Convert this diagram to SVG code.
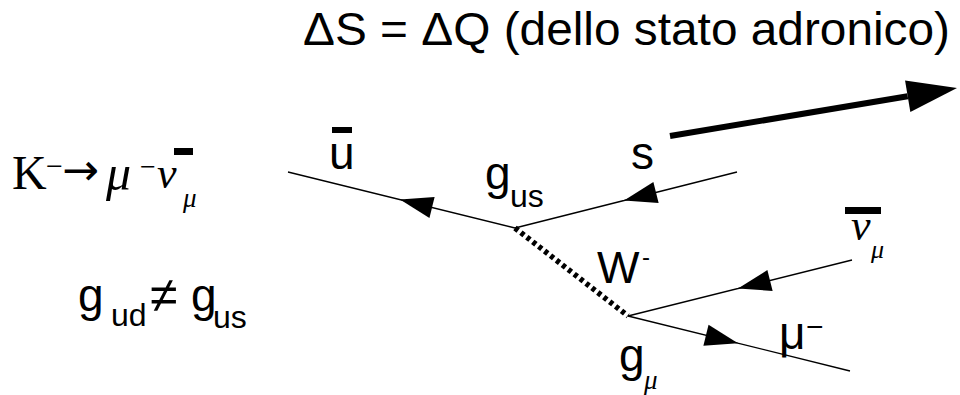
<svg xmlns="http://www.w3.org/2000/svg" width="960" height="395" viewBox="0 0 960 395">
  <defs>
    <style>
      .sans { font-family: "Liberation Sans", Arial, sans-serif; fill: #000; }
      .serif { font-family: "Liberation Serif", "Times New Roman", serif; fill: #000; }
      .it { font-style: italic; }
      .fermion { fill: none; stroke: #000; stroke-width: 1.3; marker-end: url(#ah); }
      .boson { fill: none; stroke: #000; stroke-width: 5.5; stroke-dasharray: 4 3.5; }
      .thick { fill: none; stroke: #000; stroke-width: 6; marker-end: url(#bigah); }
    </style>
    <marker id="ah" markerUnits="userSpaceOnUse" markerWidth="36" markerHeight="24" viewBox="-34 -12 36 24" refX="0" refY="0" orient="auto" overflow="visible">
      <path d="M0,0 L-33,-10.8 L-33,10.8 Z" fill="#000"/>
    </marker>
    <marker id="bigah" markerUnits="userSpaceOnUse" markerWidth="52" markerHeight="34" viewBox="0 -17 52 34" refX="0" refY="0" orient="auto" overflow="visible">
      <path d="M0,-16 L50,0 L0,16 Z" fill="#000"/>
    </marker>
  </defs>
  <rect width="960" height="395" fill="#fff"/>

  <g id="connectors">
    <path id="e-ubar" class="fermion" d="M515,228 L288,172 M515,228 L400,199.6"/>
    <path id="e-s" class="fermion" d="M737,172 L515,228 M737,172 L624,200.5"/>
    <path id="e-nubar" class="fermion" d="M852,260 L628,316 M852,260 L738,288.5"/>
    <path id="e-mu" class="fermion" d="M628,316 L850,371 M628,316 L738,343.2"/>
    <path id="e-W" class="boson" d="M515,228 L628,316"/>
    <path id="e-strange" class="thick" d="M670,136 L907.7,96.2"/>
  </g>

  <g id="title">
    <text class="sans" x="303" y="45" font-size="46" textLength="647" lengthAdjust="spacingAndGlyphs">ΔS = ΔQ (dello stato adronico)</text>
  </g>

  <g id="decay">
    <text class="serif" font-size="48"><tspan x="12" y="189">K</tspan><tspan x="46" y="176" font-size="30">−</tspan><tspan x="62" y="185" font-size="44" font-family="'DejaVu Sans', sans-serif">→</tspan><tspan class="it" x="106" y="190" font-size="50">μ</tspan><tspan x="140" y="176" font-size="28">−</tspan><tspan class="it" x="157" y="188" font-size="44">ν</tspan><tspan class="it" x="183" y="207" font-size="27">μ</tspan></text>
    <rect x="174" y="148" width="19" height="7" fill="#000"/>
  </g>

  <g id="couplings">
    <text class="sans" font-size="46"><tspan x="78" y="311">g</tspan><tspan x="111" y="326" font-size="32">ud</tspan><tspan x="150" y="312" font-size="50">≠</tspan><tspan x="191" y="311">g</tspan><tspan x="213" y="328" font-size="32">us</tspan></text>
  </g>

  <g id="ubar">
    <text class="sans" x="329" y="169" font-size="46">u</text>
    <rect x="332" y="127" width="20" height="6" fill="#000"/>
  </g>

  <g id="s">
    <text class="sans" x="631" y="169" font-size="46">s</text>
  </g>

  <g id="gus">
    <text class="sans" font-size="46"><tspan x="485" y="189">g</tspan><tspan x="510" y="207" font-size="32">us</tspan></text>
  </g>

  <g id="W">
    <text class="sans" font-size="45"><tspan x="597" y="283">W</tspan><tspan x="642" y="265" font-size="24">-</tspan></text>
  </g>

  <g id="nubar">
    <text class="serif it" font-size="44"><tspan x="851" y="240">ν</tspan><tspan x="871" y="258" font-size="26">μ</tspan></text>
    <rect x="845" y="207" width="36" height="7" fill="#000"/>
  </g>

  <g id="muon">
    <text class="sans" font-size="46"><tspan x="779" y="349">μ</tspan><tspan x="806" y="337" font-size="30">−</tspan></text>
  </g>

  <g id="gmu">
    <text class="sans" font-size="46"><tspan x="619" y="371">g</tspan><tspan class="serif it" x="644" y="389" font-size="27">μ</tspan></text>
  </g>
</svg>
